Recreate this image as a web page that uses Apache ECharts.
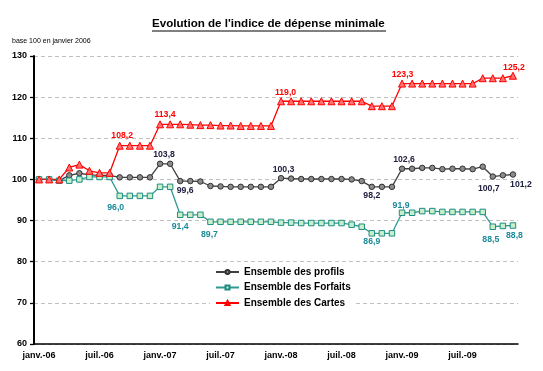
<!DOCTYPE html>
<html><head><meta charset="utf-8">
<script src="https://cdn.jsdelivr.net/npm/echarts@6/dist/echarts.min.js"></script>
<style>html,body{margin:0;padding:0;background:#fff}#c{width:543px;height:371px}</style>
</head><body><div id="c"></div>
<script>
// ---- data ----
const months = ['janv.','févr.','mars','avr.','mai','juin','juil.','août','sept.','oct.','nov.','déc.'];
const years = ['06','07','08','09'];
const categories = [];
years.forEach(y => months.forEach(m => categories.push(m + '-' + y)));
const yTicks = [60, 70, 80, 90, 100, 110, 120, 130];

const profils = [
  100.0, 100.0, 99.7, 101.0, 101.5, 101.1, 101.0, 101.0, 100.5, 100.5, 100.5, 100.5,
  103.8, 103.8, 99.6, 99.6, 99.5, 98.4, 98.3, 98.2, 98.2, 98.2, 98.2, 98.2,
  100.3, 100.2, 100.1, 100.1, 100.1, 100.1, 100.1, 100.0, 99.6, 98.2, 98.2, 98.2,
  102.6, 102.6, 102.8, 102.8, 102.5, 102.6, 102.6, 102.5, 103.1, 100.7, 101.0, 101.2
];
const forfaits = [
  100.0, 100.0, 99.7, 99.7, 100.0, 100.6, 100.6, 100.6, 96.0, 96.0, 96.0, 96.0,
  98.2, 98.2, 91.4, 91.4, 91.4, 89.7, 89.7, 89.7, 89.7, 89.7, 89.7, 89.7,
  89.5, 89.5, 89.4, 89.4, 89.4, 89.4, 89.4, 89.0, 88.5, 86.9, 86.9, 86.9,
  91.9, 91.9, 92.3, 92.3, 92.1, 92.1, 92.1, 92.1, 92.1, 88.5, 88.7, 88.8
];
const cartes = [
  100.0, 100.0, 100.0, 102.9, 103.6, 102.1, 101.6, 101.6, 108.2, 108.2, 108.2, 108.2,
  113.4, 113.4, 113.4, 113.3, 113.2, 113.2, 113.1, 113.1, 113.0, 113.0, 113.0, 113.0,
  119.0, 119.0, 119.0, 119.0, 119.0, 119.0, 119.0, 119.0, 119.0, 117.8, 117.8, 117.8,
  123.3, 123.3, 123.3, 123.3, 123.3, 123.3, 123.3, 123.3, 124.6, 124.6, 124.6, 125.2
];
const seriesNames = ['Ensemble des profils', 'Ensemble des Forfaits', 'Ensemble des Cartes'];

// ---- label placement (style) ----
const profilsLbl = {12:[4,-9.5], 14:[5,9.5], 24:[2.5,-9], 33:[0,9], 36:[2,-9], 45:[-4,12], 47:[8,10]};
const forfaitsLbl = {8:[-4,12], 14:[0,12], 17:[-1,13], 33:[0,8.5], 36:[-1,-7], 45:[-2,13], 47:[1.5,10]};
const cartesLbl = {8:[2.5,-10.5], 12:[5,-10], 24:[4.5,-9], 36:[0.5,-9.3], 47:[1,-8]};

const FONT = 'Liberation Sans, Arial, sans-serif';
const fmt = v => v.toFixed(1).replace('.', ',');
function build(values, lbl, color) {
  return values.map((v, i) => {
    if (lbl[i]) {
      return { value: v, label: { show: true, position: 'inside', offset: lbl[i],
        formatter: fmt(v), color: color, fontSize: 8.7, fontWeight: 'bold', fontFamily: FONT } };
    }
    return v;
  });
}

const chart = echarts.init(document.getElementById('c'));
chart.setOption({
  animation: false,
  backgroundColor: '#fff',
  graphic: [
    { type: 'text', left: 152, top: 18, style: { text: "Evolution de l'indice de dépense minimale",
      font: 'bold 11.6px Liberation Sans, Arial, sans-serif', fill: '#000' } },
    { type: 'line', shape: { x1: 152, y1: 31, x2: 386, y2: 31 }, style: { stroke: '#000', lineWidth: 1 } },
    { type: 'text', left: 12, top: 38, style: { text: 'base 100 en janvier 2006',
      font: '7px Liberation Sans, Arial, sans-serif', fill: '#000' } }
  ],
  grid: { left: 34, right: 25, top: 56, bottom: 27, containLabel: false },
  legend: {
    orient: 'vertical', left: 210, top: 262,
    padding: [5, 4, 5, 5], itemGap: 5.5, itemWidth: 23, itemHeight: 5,
    backgroundColor: '#fff',
    textStyle: { fontSize: 10, fontWeight: 'bold', color: '#000', fontFamily: FONT },
    data: seriesNames
  },
  xAxis: {
    type: 'category', data: categories, boundaryGap: true,
    axisLine: { lineStyle: { color: '#000', width: 1.5 } },
    axisTick: { interval: 5, length: 3, lineStyle: { color: '#000', width: 1.3 } },
    axisLabel: { interval: 5, color: '#000', fontSize: 9, fontWeight: 'bold', fontFamily: FONT, margin: 7 },
    splitLine: { show: false }
  },
  yAxis: {
    type: 'value', min: yTicks[0], max: yTicks[yTicks.length - 1], interval: yTicks[1] - yTicks[0],
    axisLine: { show: true, lineStyle: { color: '#000', width: 2 } },
    axisTick: { show: true, length: 4, lineStyle: { color: '#000', width: 1.3 } },
    axisLabel: { color: '#000', fontSize: 9, fontWeight: 'bold', fontFamily: FONT, margin: 7 },
    splitLine: { show: true, lineStyle: { color: '#c0c0c0', width: 1, type: [4, 3] } }
  },
  series: [
    { name: seriesNames[0], type: 'line', data: build(profils, profilsLbl, '#202040'),
      symbol: 'circle', symbolSize: 5.5, showAllSymbol: true,
      lineStyle: { color: '#404040', width: 1.3 },
      itemStyle: { color: '#8c8c8c', borderColor: '#303030', borderWidth: 1 } },
    { name: seriesNames[1], type: 'line', data: build(forfaits, forfaitsLbl, '#1a8a9a'),
      symbol: 'rect', symbolSize: 5.5, showAllSymbol: true,
      lineStyle: { color: '#2e9990', width: 1.3 },
      itemStyle: { color: '#c8f0c8', borderColor: '#1e8c84', borderWidth: 1 } },
    { name: seriesNames[2], type: 'line', data: build(cartes, cartesLbl, '#ff0000'),
      symbol: 'triangle', symbolSize: 7, showAllSymbol: true,
      lineStyle: { color: '#ff0000', width: 1.3 },
      itemStyle: { color: '#ff7070', borderColor: '#ff0000', borderWidth: 1 } }
  ]
});
</script></body></html>
